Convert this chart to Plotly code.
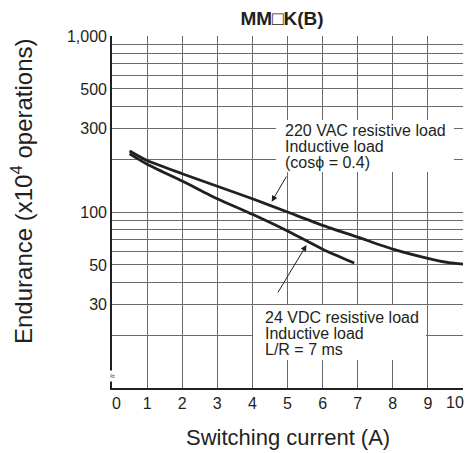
import plotly.graph_objects as go

# ---- data ----
vac_current = [0.5, 1, 2, 3, 4, 5, 6, 7, 8, 9, 9.6, 10]
vac_endurance = [222, 196, 165, 140, 119, 100, 84, 72, 61.5, 54.5, 51.5, 50.5]

vdc_current = [0.5, 1, 2, 3, 4, 5, 6, 6.9]
vdc_endurance = [214, 187, 150, 119, 97, 78, 61.5, 51.3]

x_ticks = [0, 1, 2, 3, 4, 5, 6, 7, 8, 9, 10]
x_tick_text = ["\u00a0\u00a00", "1", "2", "3", "4", "5", "6", "7", "8", "9", "10"]

y_grid = [10, 20, 30, 40, 50, 60, 70, 80, 90, 100,
          200, 300, 400, 500, 600, 700, 800, 900, 1000]
y_tick_text = ["", "", "30", "", "50", "", "", "", "", "100",
               "", "300", "", "500", "", "", "", "", "1,000"]

title_text = "MM\u25a1K(B)"
x_title = "Switching current (A)"
y_title = "Endurance (x10<sup>4</sup> operations)"
vac_label = ["220 VAC resistive load", "Inductive load", "(cos\u03d5 = 0.4)"]
vdc_label = ["24 VDC resistive load", "Inductive load", "L/R = 7 ms"]

# ---- layout (screen pixels) ----
W, H = 465, 453
PX0, PX1, PY0, PY1 = 112, 463, 36, 388          # plot area
L, R, T, B = PX0, W - PX1, PY0, H - PY1


def px(x):
    return (x - PX0) / (PX1 - PX0)


def py(y):
    return (PY1 - y) / (PY1 - PY0)


FONT = "Liberation Sans, Arial, sans-serif"
INK = "#231f20"
GRID = "#6a6a6a"

fig = go.Figure()
fig.add_trace(go.Scatter(x=vac_current, y=vac_endurance, mode="lines",
                         line=dict(color=INK, width=2.8, shape="spline", smoothing=0.6),
                         hoverinfo="skip", showlegend=False))
fig.add_trace(go.Scatter(x=vdc_current, y=vdc_endurance, mode="lines",
                         line=dict(color=INK, width=2.8, shape="spline", smoothing=0.6),
                         hoverinfo="skip", showlegend=False))

fig.update_layout(
    width=W, height=H,
    margin=dict(l=L, r=R, t=T, b=B, pad=0),
    paper_bgcolor="white", plot_bgcolor="white",
    font=dict(family=FONT, color=INK, size=16),
    showlegend=False,
    title=dict(text="<b>" + title_text + "</b>", x=282 / W, xanchor="center",
               y=1 - 18.5 / H, yanchor="middle",
               font=dict(size=19, family=FONT, color=INK)),
)

# the last x label sits flush with the right edge, drawn as an annotation so it never overflows
axis_tick_text = x_tick_text[:-1] + [""]
fig.update_xaxes(range=[0, 10], tickvals=x_ticks, ticktext=axis_tick_text,
                 showgrid=True, gridcolor=GRID, gridwidth=1.3,
                 showline=True, linecolor=INK, linewidth=1.6,
                 zeroline=False, ticks="", tickfont=dict(size=16))
fig.update_yaxes(type="log", range=[1, 3], tickvals=y_grid, ticktext=y_tick_text,
                 showgrid=True, gridcolor=GRID, gridwidth=1.3,
                 showline=True, linecolor=INK, linewidth=1.6,
                 zeroline=False, ticks="", tickfont=dict(size=16))
fig.add_annotation(text=x_tick_text[-1], xref="x", yref="paper", x=x_ticks[-1], y=0,
                   xanchor="right", yanchor="middle", xshift=3, yshift=-14,
                   showarrow=False, font=dict(size=16, family=FONT, color=INK))

# white boxes behind the labels
for (x0, y0, x1, y1) in [(276, 120, 454, 172), (253, 305, 426, 360)]:
    fig.add_shape(type="rect", xref="paper", yref="paper",
                  x0=px(x0), x1=px(x1), y0=py(y1), y1=py(y0),
                  fillcolor="white", line=dict(width=0), layer="above")

for i, t in enumerate(vac_label):
    fig.add_annotation(text=t, xref="paper", yref="paper", x=px(282.5), y=py(130.7 + 16 * i),
                       xanchor="left", yanchor="middle", showarrow=False,
                       font=dict(size=16, family=FONT, color=INK))
for i, t in enumerate(vdc_label):
    fig.add_annotation(text=t, xref="paper", yref="paper", x=px(263), y=py(317.3 + 16 * i),
                       xanchor="left", yanchor="middle", showarrow=False,
                       font=dict(size=16, family=FONT, color=INK))

# leader arrows
fig.add_annotation(text="", xref="paper", yref="paper", x=px(271.7), y=py(201.7),
                   ax=15.6, ay=-26.7, showarrow=True, arrowhead=2, arrowsize=1.2,
                   arrowwidth=1, arrowcolor=INK)
fig.add_annotation(text="", xref="paper", yref="paper", x=px(306.5), y=py(245),
                   ax=-29.5, ay=49, showarrow=True, arrowhead=2, arrowsize=1.2,
                   arrowwidth=1, arrowcolor=INK)

# axis titles
fig.add_annotation(text=y_title, xref="paper", yref="paper", x=px(22), y=py(191),
                   xanchor="center", yanchor="middle", textangle=-90, showarrow=False,
                   font=dict(size=24, family=FONT, color=INK))
fig.add_annotation(text=x_title, xref="paper", yref="paper", x=px(287.5), y=py(437),
                   xanchor="center", yanchor="middle", showarrow=False,
                   font=dict(size=22, family=FONT, color=INK))

# axis break mark
fig.add_annotation(text="\u2248", xref="paper", yref="paper", x=0, y=py(376),
                   xanchor="center", yanchor="middle", showarrow=False,
                   font=dict(size=9, family=FONT, color=INK), bgcolor="white", borderpad=0)

fig.write_html(
    "out.html",
    config={"displayModeBar": False},
    post_script="document.body.style.margin='0';"
                "document.documentElement.style.overflow='hidden';"
                "document.body.style.overflow='hidden';",
)
